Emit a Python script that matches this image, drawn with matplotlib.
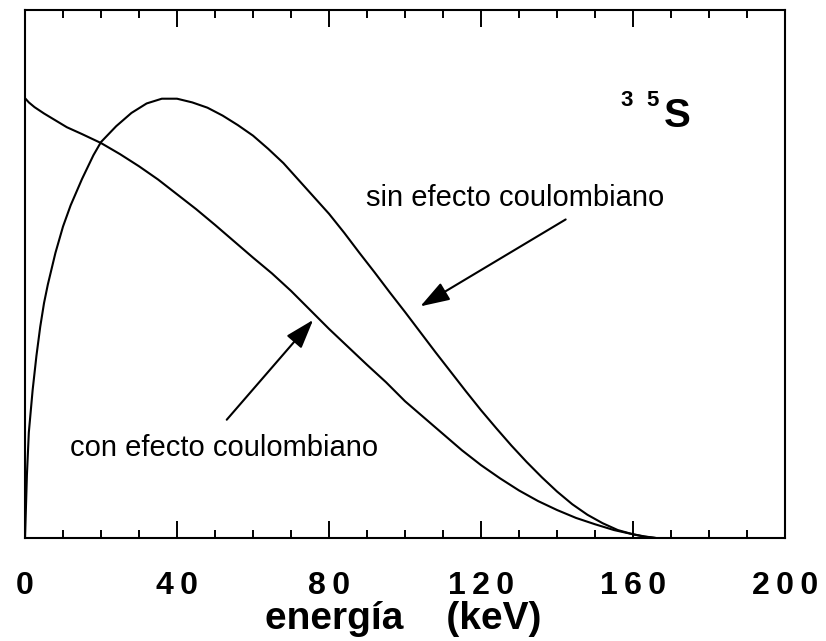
import matplotlib.pyplot as plt
from matplotlib.ticker import MultipleLocator

plt.rcParams['font.family'] = ['Liberation Sans', 'DejaVu Sans']

# energy (keV) and relative intensity (arbitrary units)
e_sin = [0, 0.5, 1, 2, 3, 4, 5, 6, 8, 10, 12, 15, 18, 20, 24, 28, 32, 36, 40,
         44, 48, 52, 56, 60, 64, 68, 72, 76, 80, 84, 88, 92, 96, 100, 104, 108,
         112, 116, 120, 124, 128, 132, 136, 140, 144, 148, 152, 156, 160, 163, 166]
y_sin = [0, 12, 20, 28, 34.5, 40, 44.5, 48, 54, 59, 63, 68, 72.5, 75, 78, 80.5,
         82.3, 83.2, 83.2, 82.5, 81.5, 80, 78.2, 76.2, 73.7, 71, 67.8, 64.6, 61.4,
         57.8, 54, 50.3, 46.5, 42.8, 39, 35.2, 31.5, 27.8, 24.2, 20.8, 17.5, 14.4,
         11.5, 8.8, 6.4, 4.4, 2.8, 1.5, 0.7, 0.25, 0]

e_con = [0, 1, 2.5, 5, 8, 11, 15, 20, 25, 30, 35, 40, 45, 50, 55, 60, 65, 70,
         75, 80, 85, 90, 95, 100, 105, 110, 115, 120, 125, 130, 135, 140, 145,
         150, 155, 160, 163, 166]
y_con = [83.3, 82.5, 81.6, 80.4, 79.1, 77.8, 76.5, 74.8, 72.7, 70.4, 67.9, 65.1,
         62.3, 59.3, 56.2, 53.1, 50.1, 46.8, 43.2, 39.6, 36.2, 32.8, 29.5, 25.9,
         22.8, 19.7, 16.6, 13.8, 11.3, 9.0, 7.0, 5.3, 3.8, 2.6, 1.5, 0.7, 0.3, 0]

xticks = [0, 40, 80, 120, 160, 200]
xticklabels = ['0', '4\u20090', '8\u20090', '1\u20092\u20090', '1\u20096\u20090', '2\u20090\u20090']

fig = plt.figure(figsize=(8.26, 6.41), dpi=100)
ax = fig.add_axes([0.0303, 0.1607, 0.9201, 0.8237])

ax.plot(e_sin, y_sin, color='black', lw=1.5)
ax.plot(e_con, y_con, color='black', lw=1.5)

ax.set_xlim(0, 200)
ax.set_ylim(0, 100)
ax.set_xticks(xticks)
ax.set_xticklabels(xticklabels, fontsize=23, fontweight='bold')
ax.xaxis.set_minor_locator(MultipleLocator(10))
ax.set_yticks([])
ax.tick_params(axis='x', which='both', direction='in', top=True, bottom=True, width=1.4)
ax.tick_params(axis='x', which='major', length=12, pad=24)
ax.tick_params(axis='x', which='minor', length=6)
for s in ax.spines.values():
    s.set_linewidth(1.5)

ax.set_xlabel('energía    (keV)', fontsize=28, fontweight='bold')
ax.xaxis.set_label_coords(0.498, -0.119)

arrow = dict(arrowstyle='-|>,head_length=1.8,head_width=0.6', color='black', lw=1.5)
ax.annotate('', xy=(103.4, 43.6), xytext=(142.9, 60.6), arrowprops=arrow)
ax.text(129.0, 64.4, 'sin efecto coulombiano', fontsize=21, ha='center', va='center')

ax.annotate('', xy=(76.3, 41.7), xytext=(52.6, 22.0), arrowprops=arrow)
ax.text(11.8, 17.0, 'con efecto coulombiano', fontsize=21, ha='left', va='center')

ax.text(156.6, 82.8, '3', fontsize=16, fontweight='bold', ha='left', va='center')
ax.text(163.6, 82.8, '5', fontsize=16, fontweight='bold', ha='left', va='center')
ax.text(168.2, 79.9, 'S', fontsize=29, fontweight='bold', ha='left', va='center')

fig.savefig('out.png', dpi=100)
